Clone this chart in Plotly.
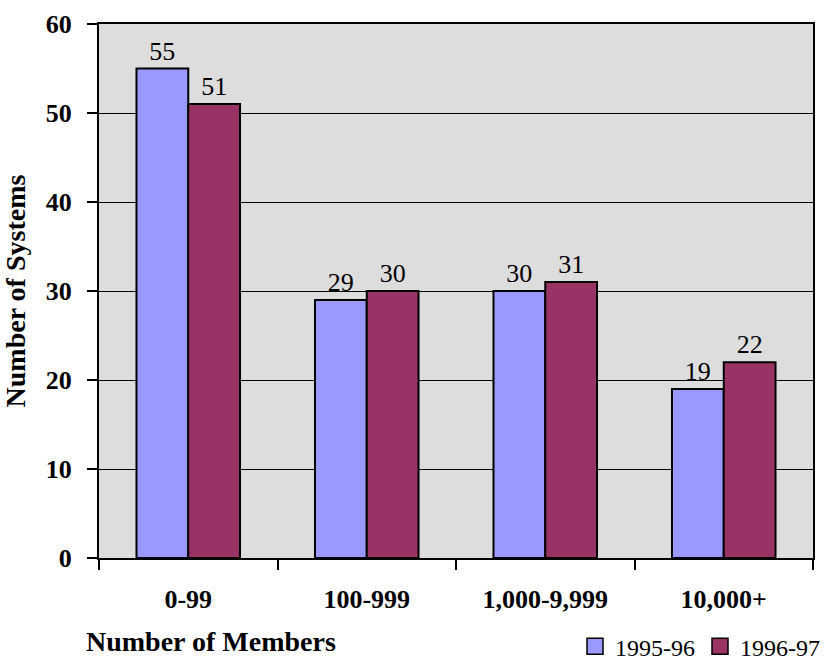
import plotly.graph_objects as go

categories = ["0-99", "100-999", "1,000-9,999", "10,000+"]
series_names = ["1995-96", "1996-97"]
values_1995 = [55, 29, 30, 19]
values_1996 = [51, 30, 31, 22]
y_ticks = [0, 10, 20, 30, 40, 50, 60]

colors = ["#9999FF", "#993366"]
font_family = "Liberation Serif, Times New Roman, serif"

fig = go.Figure()
for name, vals, col in zip(series_names, [values_1995, values_1996], colors):
    fig.add_trace(go.Bar(
        x=categories, y=vals, name=name, showlegend=False,
        marker=dict(color=col, line=dict(color="black", width=2)),
        text=[str(v) for v in vals], textposition="outside",
        constraintext="none",
        textfont=dict(family=font_family, size=26, color="black"),
        cliponaxis=False,
    ))

# legend swatches: square markers with a black outline
for name, col in zip(series_names, colors):
    fig.add_trace(go.Scatter(
        x=[None], y=[None], mode="markers", name=name,
        marker=dict(symbol="square", size=17, color=col,
                    line=dict(color="black", width=1.5)),
    ))

fig.update_layout(
    barmode="group", bargap=0.42, bargroupgap=0,
    width=825, height=664,
    margin=dict(l=98, r=10, t=19, b=104),
    paper_bgcolor="white", plot_bgcolor="#DDDDDD",
    font=dict(family=font_family, color="black"),
    showlegend=True,
    legend=dict(
        orientation="h", xref="container", yref="container",
        x=1.0, xanchor="right", y=0.026, yanchor="middle",
        font=dict(family=font_family, size=24, color="black"),
        itemsizing="trace", itemwidth=30, traceorder="normal",
        bgcolor="rgba(0,0,0,0)", borderwidth=0,
    ),
)

fig.update_xaxes(
    showline=True, linecolor="black", linewidth=2, mirror=True,
    ticks="outside", ticklen=10, tickcolor="black", tickwidth=1.5,
    tickson="boundaries", ticklabelstandoff=17,
    tickfont=dict(family=font_family, size=26, color="black", weight="bold"),
    showgrid=False,
)
fig.update_yaxes(
    range=[0, 60], tickvals=y_ticks,
    showline=True, linecolor="black", linewidth=2, mirror=True,
    ticks="outside", ticklen=10, tickcolor="black", tickwidth=1.5,
    ticklabelstandoff=10,
    tickfont=dict(family=font_family, size=26, color="black", weight="bold"),
    showgrid=True, gridcolor="black", gridwidth=1,
    zeroline=False,
    title=dict(text="Number of Systems", standoff=16,
               font=dict(family=font_family, size=28, color="black", weight="bold")),
)

fig.add_annotation(
    text="<b>Number of Members</b>", xref="paper", yref="paper",
    x=-0.021, y=-0.157, xanchor="left", yanchor="middle", showarrow=False,
    font=dict(family=font_family, size=28, color="black"),
)

fig.write_html("out.html")
